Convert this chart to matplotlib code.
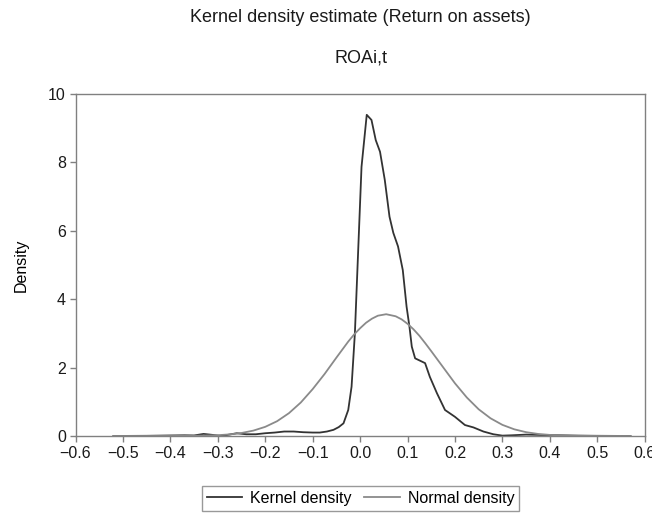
import matplotlib
matplotlib.use("Agg")
import matplotlib.pyplot as plt

plt.rcParams.update({
    'font.family': ['Liberation Sans', 'DejaVu Sans'],
    'font.size': 11.5,
})

# ── DATA ─────────────────────────────────────────────────────
kernel_x = [-0.52, -0.45, -0.40, -0.37, -0.35, -0.33, -0.31, -0.295, -0.28,
            -0.26, -0.24, -0.22, -0.20, -0.18, -0.16, -0.14, -0.12, -0.10,
            -0.085, -0.07, -0.056, -0.045, -0.035, -0.025, -0.018, -0.011,
            -0.004, 0.003, 0.014, 0.024, 0.033, 0.042, 0.052, 0.062, 0.070,
            0.080, 0.090, 0.098, 0.104, 0.109, 0.116, 0.137, 0.147, 0.162,
            0.179, 0.200, 0.221, 0.239, 0.260, 0.281, 0.30, 0.32, 0.35,
            0.38, 0.42, 0.46, 0.50, 0.57]
kernel_y = [0.0, 0.005, 0.015, 0.02, 0.015, 0.06, 0.03, 0.0, 0.03,
            0.08, 0.05, 0.05, 0.08, 0.10, 0.13, 0.13, 0.11, 0.10,
            0.10, 0.13, 0.18, 0.26, 0.37, 0.76, 1.44, 3.00,
            5.44, 7.87, 9.39, 9.24, 8.65, 8.31, 7.49, 6.41, 5.94,
            5.54, 4.85, 3.78, 3.20, 2.61, 2.27, 2.13, 1.73, 1.25,
            0.76, 0.56, 0.32, 0.25, 0.13, 0.05, 0.01, 0.02, 0.04,
            0.03, 0.02, 0.01, 0.005, 0.0]

normal_x = [-0.52, -0.45, -0.40, -0.35, -0.30, -0.275, -0.25, -0.225, -0.20,
            -0.175, -0.15, -0.125, -0.10, -0.075, -0.05, -0.025, -0.0125, 0.0,
            0.0125, 0.025, 0.0375, 0.055, 0.075, 0.0875, 0.10, 0.1125, 0.125,
            0.1375, 0.15, 0.175, 0.20, 0.225, 0.25, 0.275, 0.30, 0.325, 0.35,
            0.375, 0.40, 0.425, 0.45, 0.475, 0.50, 0.525, 0.57]
normal_y = [0.0, 0.0001, 0.001, 0.005, 0.023, 0.046, 0.087, 0.157, 0.267,
            0.432, 0.667, 0.979, 1.37, 1.81, 2.29, 2.76, 2.97, 3.15,
            3.31, 3.43, 3.517, 3.56, 3.50, 3.41, 3.28, 3.12, 2.93,
            2.71, 2.48, 2.01, 1.54, 1.125, 0.78, 0.517, 0.325, 0.195, 0.111,
            0.060, 0.031, 0.015, 0.007, 0.003, 0.001, 0.0005, 0.0001]

x_ticks = [-0.6, -0.5, -0.4, -0.3, -0.2, -0.1, 0.0, 0.1, 0.2, 0.3, 0.4, 0.5, 0.6]
y_ticks = [0, 2, 4, 6, 8, 10]

# ── FIGURE ───────────────────────────────────────────────────
fig = plt.figure(figsize=(6.52, 5.14), dpi=100)
ax = fig.add_axes([0.1158, 0.1518, 0.873, 0.6654])

l1, = ax.plot(kernel_x, kernel_y, color='#333333', linewidth=1.3)
l2, = ax.plot(normal_x, normal_y, color='#8a8a8a', linewidth=1.3)

ax.set_xlim(-0.6, 0.6)
ax.set_ylim(0, 10)
ax.set_xticks(x_ticks)
ax.set_xticklabels([f'{t:.1f}'.replace('-', '\u2212') for t in x_ticks])
ax.set_yticks(y_ticks)

for s in ax.spines.values():
    s.set_color('#808080')
    s.set_linewidth(1.0)
ax.tick_params(axis='both', direction='out', length=4, width=1.0,
               color='#808080', labelcolor='#1a1a1a', labelsize=11.5, pad=3)

ax.set_ylabel('Density', fontsize=11.5, labelpad=14)

fig.text(0.553, 1 - 17 / 514, 'Kernel density estimate (Return on assets)',
         ha='center', va='center', fontsize=13, color='#1a1a1a')
fig.text(0.553, 1 - 58 / 514, 'ROAi,t',
         ha='center', va='center', fontsize=13, color='#1a1a1a')

leg = fig.legend([l1, l2], ['Kernel density', 'Normal density'],
                 loc='center', bbox_to_anchor=(0.553, 1 - 498.5 / 514),
                 ncol=2, fontsize=11.5, frameon=True, fancybox=False,
                 handlelength=2.2, columnspacing=0.8, handletextpad=0.5,
                 borderpad=0.3)
leg.get_frame().set_edgecolor('#808080')
leg.get_frame().set_linewidth(1.0)

fig.savefig('out.png', dpi=100)
